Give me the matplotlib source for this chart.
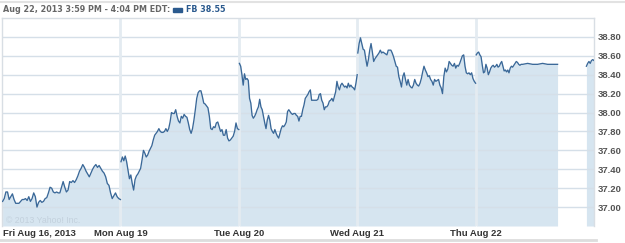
import matplotlib
matplotlib.use("Agg")
import matplotlib.pyplot as plt
import numpy as np

# ---------------- data ----------------
day_labels = ["Fri Aug 16, 2013", "Mon Aug 19", "Tue Aug 20", "Wed Aug 21", "Thu Aug 22"]
y_ticks = [37.00, 37.20, 37.40, 37.60, 37.80, 38.00, 38.20, 38.40, 38.60, 38.80]

fri = [37.06, 37.09, 37.16, 37.16, 37.08, 37.11, 37.14, 37.08, 37.04, 37.04, 37.04, 37.06,
       37.08, 37.08, 37.09, 37.07, 37.11, 37.06, 37.09, 37.15, 37.11, 37.00, 37.05, 37.07,
       37.05, 37.06, 37.09, 37.10, 37.15, 37.21, 37.20, 37.16, 37.15, 37.16, 37.15, 37.15,
       37.21, 37.27, 37.21, 37.16, 37.18, 37.27, 37.26, 37.28, 37.26, 37.29, 37.33, 37.38,
       37.41, 37.45, 37.42, 37.38, 37.35, 37.32, 37.36, 37.40, 37.43, 37.45, 37.42, 37.44,
       37.41, 37.38, 37.36, 37.32, 37.25, 37.23, 37.15, 37.09, 37.12, 37.15, 37.11, 37.09,
       37.08]
mon = [37.48, 37.53, 37.49, 37.54, 37.48, 37.39, 37.30, 37.34, 37.25, 37.18, 37.29, 37.33,
       37.35, 37.38, 37.41, 37.50, 37.60, 37.57, 37.53, 37.55, 37.59, 37.62, 37.65, 37.71,
       37.76, 37.78, 37.80, 37.83, 37.80, 37.79, 37.79, 37.80, 37.83, 37.80, 37.83, 37.90,
       38.00, 37.99, 37.99, 38.03, 37.96, 37.91, 37.89, 37.96, 37.94, 37.98, 37.96, 37.95,
       37.89, 37.82, 37.78, 37.83, 37.92, 38.03, 38.15, 38.21, 38.23, 38.23, 38.17, 38.10,
       38.09, 38.07, 38.05, 37.96, 37.83, 37.82, 37.85, 37.84, 37.89, 37.90, 37.85, 37.80,
       37.82, 37.76, 37.76, 37.82, 37.73, 37.70, 37.71, 37.73, 37.75, 37.80, 37.89, 37.83,
       37.82]
tue = [38.52, 38.49, 38.40, 38.29, 38.41, 38.35, 38.36, 38.34, 38.15, 38.10, 37.97, 37.94,
       37.96, 37.99, 38.03, 38.06, 38.14, 38.06, 38.03, 37.96, 37.89, 37.83, 37.92, 37.97,
       37.92, 37.83, 37.80, 37.78, 37.82, 37.78, 37.75, 37.73, 37.78, 37.83, 37.86, 37.85,
       37.87, 37.90, 38.01, 38.03, 38.01, 37.99, 37.98, 37.99, 37.99, 37.97, 37.96, 37.91,
       37.96, 37.96, 38.03, 38.08, 38.15, 38.17, 38.19, 38.22, 38.24, 38.13, 38.13, 38.13,
       38.13, 38.13, 38.14, 38.19, 38.20, 38.13, 38.10, 38.03, 38.06, 38.06, 38.08, 38.12,
       38.13, 38.15, 38.12, 38.17, 38.22, 38.33, 38.27, 38.24, 38.29, 38.31, 38.29, 38.27,
       38.28, 38.26, 38.31, 38.27, 38.29, 38.27, 38.26, 38.24, 38.31, 38.40]
wed = [38.63, 38.73, 38.79, 38.73, 38.67, 38.66, 38.57, 38.49, 38.56, 38.66, 38.73, 38.64,
       38.54, 38.57, 38.59, 38.61, 38.63, 38.66, 38.63, 38.64, 38.63, 38.62, 38.61, 38.66,
       38.66, 38.66, 38.63, 38.59, 38.54, 38.49, 38.48, 38.38, 38.33, 38.27, 38.38, 38.42,
       38.35, 38.29, 38.35, 38.29, 38.27, 38.26, 38.29, 38.35, 38.31, 38.29, 38.28, 38.31,
       38.36, 38.43, 38.49, 38.45, 38.42, 38.38, 38.39, 38.35, 38.33, 38.29, 38.35, 38.33,
       38.34, 38.35, 38.29, 38.26, 38.20, 38.38, 38.47, 38.43, 38.46, 38.54, 38.52, 38.50,
       38.49, 38.52, 38.47, 38.50, 38.49, 38.52, 38.56, 38.60, 38.61, 38.49, 38.42, 38.41,
       38.42, 38.40, 38.42, 38.36, 38.33, 38.31]
thu_am = [38.61, 38.63, 38.64, 38.61, 38.59, 38.50, 38.42, 38.43, 38.51, 38.47, 38.40, 38.43,
          38.47, 38.49, 38.50, 38.48, 38.49, 38.51, 38.48, 38.49, 38.52, 38.54, 38.49, 38.44,
          38.45, 38.43, 38.45, 38.42, 38.47, 38.49, 38.48, 38.50, 38.52, 38.54, 38.53, 38.51,
          38.50, 38.51]
thu_flat = [38.51, 38.52, 38.51, 38.51, 38.52, 38.51, 38.51, 38.51]
thu_late = [38.49, 38.52, 38.54, 38.52, 38.55, 38.56, 38.55]

# session times (minutes after 9:30 open)
session_len = 390
thu_am_end = 150      # 12:00
thu_flat_end = 270    # 14:00
thu_late_start = 365  # 15:35

title_left = "Aug 22, 2013 3:59 PM - 4:04 PM EDT:"
title_right = "FB 38.55"
watermark = "\u00a9 2013 Yahoo! Inc."

# ---------------- style ----------------
LINE = "#3a6898"
FILL = "#d6e5f0"
GRID = "#d5dfe8"
VGRID = "#e4ebf1"
TXT = "#555555"

W, H = 625, 243
fig = plt.figure(figsize=(W / 100, H / 100), dpi=100)
ax = fig.add_axes([2 / W, (H - 226) / H, (594 - 2) / W, (226 - 18) / H])

ymin, ymax = 36.80, 39.00


def segments():
    regular = [fri, mon, tue, wed]
    segs = []
    for d, vals in enumerate(regular):
        t = np.linspace(2, session_len, len(vals))
        segs.append((d + t / session_len, np.array(vals)))
    t_am = np.linspace(2, thu_am_end, len(thu_am))
    t_flat = np.linspace(thu_am_end + 5, thu_flat_end, len(thu_flat))
    t1 = np.concatenate([t_am, t_flat])
    v1 = np.array(thu_am + thu_flat)
    segs.append((4 + t1 / session_len, v1))
    t_late = np.linspace(thu_late_start, session_len, len(thu_late))
    segs.append((4 + t_late / session_len, np.array(thu_late)))
    return segs


for x, v in segments():
    ax.fill_between(x, v, ymin, color=FILL, lw=0, zorder=1)

for yt in y_ticks:
    ax.axhline(yt, color=GRID, lw=1.0, zorder=2)
for d in range(1, 5):
    ax.axvline(d, color=VGRID, lw=2.0, zorder=2)

for x, v in segments():
    ax.plot(x, v, color=LINE, lw=0.95, zorder=3, solid_joinstyle="round")

ax.set_xlim(0, 5)
ax.set_ylim(ymin, ymax)
ax.set_xticks([])
ax.yaxis.tick_right()
ax.set_yticks(y_ticks)
ax.set_yticklabels([f"{v:.2f}" for v in y_ticks], fontsize=6.8, color=TXT,
                   fontweight="bold", family="Liberation Sans")
ax.tick_params(axis="y", length=0, pad=3)
ax.spines["bottom"].set_visible(False)
for s in ["top", "right", "left"]:
    ax.spines[s].set_color("#d8dee4")
    ax.spines[s].set_linewidth(1.0)

# x labels
trans = ax.get_xaxis_transform()
lab_y = -7.5 / 208
ax.text(0.005, lab_y, day_labels[0], transform=trans, ha="left", va="center",
        fontsize=6.8, color="#333333", fontweight="bold", family="Liberation Sans")
for d in range(1, 5):
    ax.text(d, lab_y, day_labels[d], transform=trans, ha="center", va="center",
            fontsize=6.8, color="#333333", fontweight="bold", family="Liberation Sans")

# watermark
ax.text(0.03, 36.86, watermark, fontsize=6.3, color="#c3d1dd", ha="left", va="center",
        family="Liberation Sans", zorder=4)

# header
fig.text(3 / W, 1 - 10 / H, title_left, fontsize=5.8, color="#666666", fontweight="bold",
         ha="left", va="center", family="DejaVu Sans")
fig.patches.append(plt.Rectangle((173 / W, 1 - 12 / H), 9 / W, 4 / H, transform=fig.transFigure,
                                 color="#2b5a8e", figure=fig))
fig.text(186 / W, 1 - 10 / H, title_right, fontsize=5.8, color="#2b5a8e", fontweight="bold",
         ha="left", va="center", family="DejaVu Sans")

# decorative frame lines
fig.add_artist(plt.Line2D([0, 1], [1 - 2 / H, 1 - 2 / H], transform=fig.transFigure,
                          color="#e2e2e2", lw=1.5))
fig.add_artist(plt.Line2D([0, 596 / W], [1 - 240 / H, 1 - 240 / H], transform=fig.transFigure,
                          color="#dddddd", lw=2))

fig.savefig("out.png", dpi=100)
